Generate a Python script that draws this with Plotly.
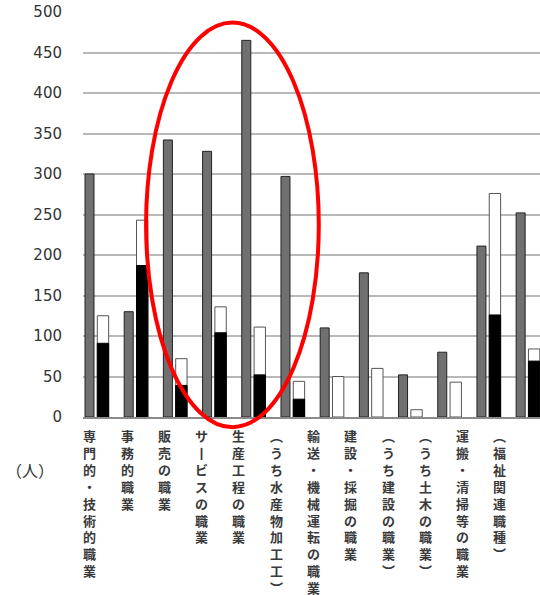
import plotly.graph_objects as go

categories = [
    "専門的・技術的職業",
    "事務的職業",
    "販売の職業",
    "サ丨ビスの職業",
    "生産工程の職業",
    "︵うち水産物加工工︶",
    "輸送・機械運転の職業",
    "建設・採掘の職業",
    "︵うち建設の職業︶",
    "︵うち土木の職業︶",
    "運搬・清掃等の職業",
    "︵福祉関連職種︶",
]
gray_values = [300, 130, 342, 328, 465, 297, 110, 178, 52, 80, 211, 252]
white_values = [125, 243, 72, 136, 111, 44, 50, 60, 9, 43, 276, 84]
black_values = [91, 187, 39, 104, 52, 22, None, None, None, None, 126, 69]
y_ticks = [0, 50, 100, 150, 200, 250, 300, 350, 400, 450, 500]

PLOT_L, PLOT_W = 83, 457
LABEL_X0, LABEL_STEP = 89.7, 37.3

fig = go.Figure()
fig.add_trace(go.Bar(
    x=categories, y=gray_values, offset=-0.449, width=0.23,
    marker=dict(color="#707070", line=dict(color="#222222", width=1)),
))
fig.add_trace(go.Bar(
    x=categories, y=white_values, offset=-0.135, width=0.29,
    marker=dict(color="#ffffff", line=dict(color="#555555", width=1)),
))
fig.add_trace(go.Bar(
    x=categories, y=black_values, offset=-0.135, width=0.29,
    marker=dict(color="#000000", line=dict(color="#000000", width=1)),
))

annotations = []
for i, c in enumerate(categories):
    annotations.append(dict(
        text="<br>".join(list(c)), xref="paper", yref="paper",
        x=(LABEL_X0 + i * LABEL_STEP - PLOT_L) / PLOT_W, y=-0.017,
        xanchor="center", yanchor="top", showarrow=False, align="center",
        font=dict(family="Noto Sans CJK JP", size=13, color="#3a3a3a", weight="bold"),
    ))
annotations.append(dict(
    text="（人）", xref="paper", yref="paper", x=-0.116, y=-0.132,
    xanchor="center", yanchor="middle", showarrow=False,
    font=dict(family="Noto Sans CJK JP", size=16, color="#333333"),
))

fig.update_layout(
    width=540, height=595,
    margin=dict(l=83, r=0, t=12, b=178, autoexpand=False),
    paper_bgcolor="white", plot_bgcolor="white",
    barmode="overlay", showlegend=False,
    font=dict(family="Noto Sans CJK JP", color="#333333"),
    xaxis=dict(
        type="category", range=[-0.5, 11.16], automargin=False,
        showticklabels=False, ticks="", showgrid=False,
        showline=True, linecolor="#8a8a8a", linewidth=2,
    ),
    yaxis=dict(
        range=[0, 500], tickvals=y_ticks, ticks="", automargin=False,
        showgrid=True, gridcolor="#b8b8b8", gridwidth=1.5,
        zeroline=False, showline=False,
        tickfont=dict(family="DejaVu Sans", size=15, color="#333333"),
        ticklabelstandoff=20,
    ),
    shapes=[dict(
        type="circle", xref="paper", yref="paper",
        x0=0.138, x1=0.516, y0=-0.025, y1=0.974,
        line=dict(color="#ff0000", width=4), layer="above",
    )],
    annotations=annotations,
)

fig.write_html(
    "out.html",
    config={"displayModeBar": False},
    post_script="document.body.style.margin='0';",
)
